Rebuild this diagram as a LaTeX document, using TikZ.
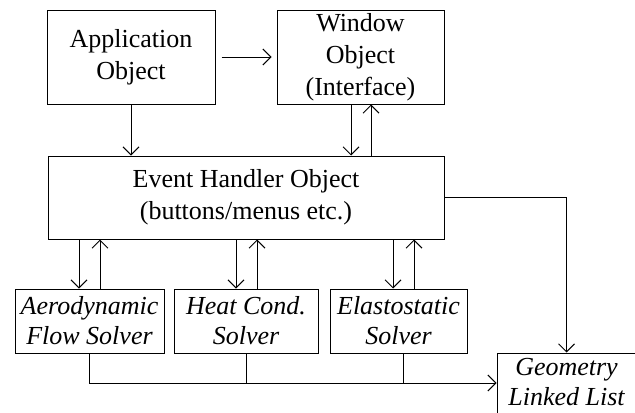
\documentclass[tikz,border=0pt]{standalone}
\usepackage{fontspec}
\setmainfont{Liberation Serif}
\usetikzlibrary{arrows.meta,calc}

\begin{document}
\begin{tikzpicture}[
  x=0.5pt, y=-0.5pt,
  box/.style={rectangle, draw=black, line width=0.5pt, inner sep=0pt,
              align=center},
  obj/.style={box, font=\fontsize{13}{16}\selectfont},
  solver/.style={box, font=\fontsize{13}{15}\selectfont\itshape},
  lbl/.style={align=center, inner sep=0pt,
              font=\fontsize{13}{15}\selectfont\itshape},
  arr/.style={-{Straight Barb[length=4pt,width=8pt]}, line width=0.5pt},
  wire/.style={line width=0.5pt}
]
\useasboundingbox (0,0) rectangle (635,412);

\node[obj, minimum width=84pt, minimum height=47pt]   (app)  at (131,57)
  {Application\\Object};
\node[obj, minimum width=83.5pt, minimum height=47pt] (win)  at (360.5,57)
  {Window\\Object\\(Interface)};
\node[obj, minimum width=198pt, minimum height=41.5pt] (evt) at (246,197.5)
  {Event Handler Object\\(buttons/menus etc.)};
\node[solver, minimum width=74.5pt, minimum height=32pt] (aero) at (89.5,321)
  {Aerodynamic\\Flow Solver};
\node[solver, minimum width=72pt, minimum height=32pt]   (heat) at (246,321)
  {Heat Cond.\\Solver};
\node[solver, minimum width=68.5pt, minimum height=32pt] (elas) at (398.5,321)
  {Elastostatic\\Solver};
\node[box, minimum width=69.5pt, minimum height=33.5pt] (geo) at (566.5,386.5) {};
\node[lbl] (geotext) at (566.5,382.5) {Geometry\\Linked List};
\coordinate (bus) at ([yshift=1.75pt]geo.west);

% top row
\draw[arr, shorten <=3pt, shorten >=2.5pt] (app) -- (win);
\draw[arr] (app.south) -- (app.south |- evt.north);
\draw[arr] ([xshift=-4.75pt]win.south) -- ([xshift=-4.75pt]win.south |- evt.north);
\draw[arr] ([xshift=5.25pt]win.south |- evt.north) -- ([xshift=5.25pt]win.south);

% event handler <-> solvers
\draw[arr] ([xshift=-5.25pt]aero.north |- evt.south) -- ([xshift=-5.25pt]aero.north);
\draw[arr] ([xshift=5.25pt]aero.north) -- ([xshift=5.25pt]aero.north |- evt.south);
\draw[arr] ([xshift=-5pt]heat.north |- evt.south) -- ([xshift=-5pt]heat.north);
\draw[arr] ([xshift=5.5pt]heat.north) -- ([xshift=5.5pt]heat.north |- evt.south);
\draw[arr] ([xshift=-2.75pt]elas.north |- evt.south) -- ([xshift=-2.75pt]elas.north);
\draw[arr] ([xshift=7.75pt]elas.north) -- ([xshift=7.75pt]elas.north |- evt.south);

% geometry list
\draw[arr] (evt.east) -| (geo.north);
\draw[arr] (aero.south) |- (bus);
\draw[wire] (heat.south) -- (heat.south |- bus);
\draw[wire] ([xshift=2.25pt]elas.south) -- ([xshift=2.25pt]elas.south |- bus);
\end{tikzpicture}
\end{document}
